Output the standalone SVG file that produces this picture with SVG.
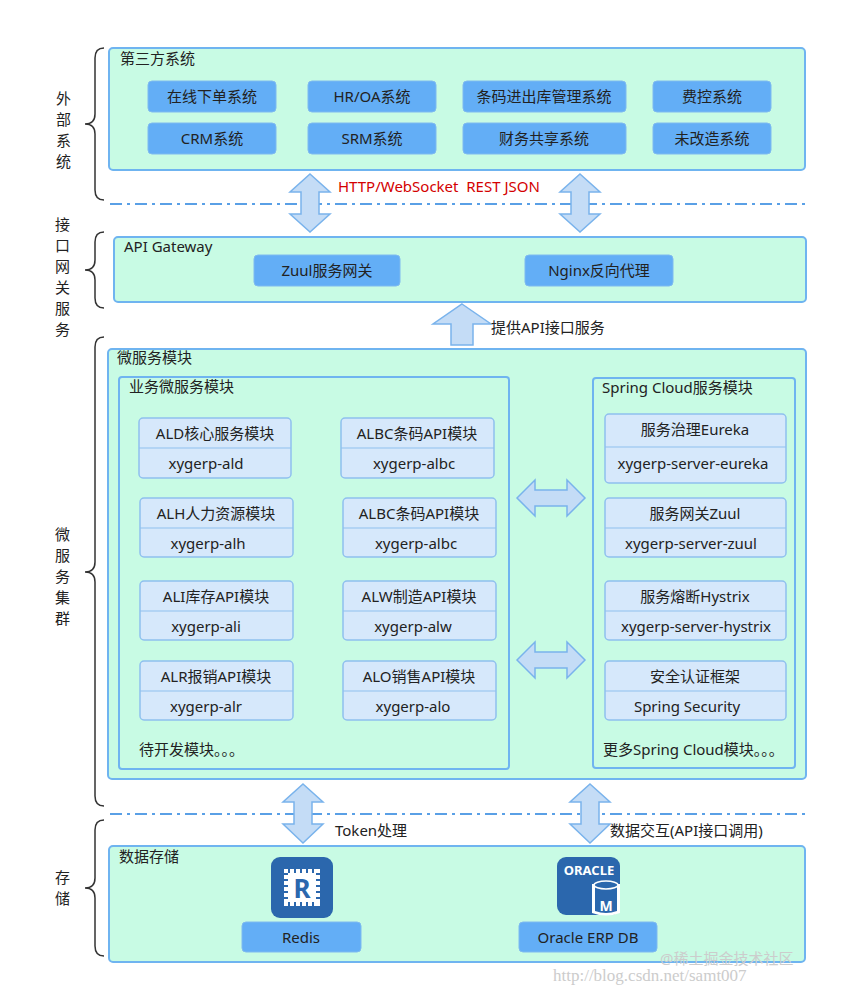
<svg xmlns="http://www.w3.org/2000/svg" width="844" height="995" viewBox="0 0 844 995">
<style>
text{font-family:"Noto Sans","Noto Sans CJK SC",sans-serif;font-size:15px;fill:#222}
.panel{fill:#c8fbe4;stroke:#6fb4f0;stroke-width:2}
.btn{fill:#63aef6;stroke:#7fbaf0;stroke-width:1}
.mod{fill:#d6e8fb;stroke:#8fc0ee;stroke-width:1.5}
.arr{fill:#c4dcf6;stroke:#79b3ec;stroke-width:1.5}
.dash{stroke:#5aa0e6;stroke-width:2;stroke-dasharray:12 5 3 5;fill:none}
.br{fill:none;stroke:#333;stroke-width:1.5}
.c{text-anchor:middle}
</style>
<rect width="844" height="995" fill="#fff"/>
<g id="brackets">
<path class="br" d="M104,48 Q95,48 95,58 L95,114 Q95,124 85,124 Q95,124 95,134 L95,190 Q95,200 104,200"/>
<text x="56" y="104">外</text><text x="56" y="125">部</text><text x="56" y="146">系</text><text x="56" y="167">统</text>
<path class="br" d="M104,232 Q95,232 95,242 L95,260 Q95,270 85,270 Q95,270 95,280 L95,298 Q95,308 104,308"/>
<text x="55" y="230">接</text><text x="55" y="251">口</text><text x="55" y="272">网</text><text x="55" y="293">关</text><text x="55" y="314">服</text><text x="55" y="335">务</text>
<path class="br" d="M104,337 Q95,337 95,347 L95,562 Q95,572 85,572 Q95,572 95,582 L95,796 Q95,806 104,806"/>
<text x="55" y="540">微</text><text x="55" y="561">服</text><text x="55" y="582">务</text><text x="55" y="603">集</text><text x="55" y="624">群</text>
<path class="br" d="M104,820 Q95,820 95,830 L95,878 Q95,888 85,888 Q95,888 95,898 L95,946 Q95,956 104,956"/>
<text x="55" y="883">存</text><text x="55" y="904">储</text>
</g>
<g id="third">
<rect class="panel" x="109" y="48" width="696" height="122" rx="4"/>
<text x="120" y="64">第三方系统</text>
<rect class="btn" x="148" y="81" width="128" height="31" rx="4"/><text class="c" x="212" y="102">在线下单系统</text>
<rect class="btn" x="308" y="81" width="128" height="31" rx="4"/><text class="c" x="372" y="102">HR/OA系统</text>
<rect class="btn" x="463" y="81" width="163" height="31" rx="4"/><text class="c" x="544" y="102">条码进出库管理系统</text>
<rect class="btn" x="653" y="81" width="118" height="31" rx="4"/><text class="c" x="712" y="102">费控系统</text>
<rect class="btn" x="148" y="123" width="128" height="31" rx="4"/><text class="c" x="212" y="144">CRM系统</text>
<rect class="btn" x="308" y="123" width="128" height="31" rx="4"/><text class="c" x="372" y="144">SRM系统</text>
<rect class="btn" x="463" y="123" width="163" height="31" rx="4"/><text class="c" x="544" y="144">财务共享系统</text>
<rect class="btn" x="653" y="123" width="118" height="31" rx="4"/><text class="c" x="712" y="144">未改造系统</text>
</g>
<g id="gateway">
<rect class="panel" x="114" y="237" width="692" height="65" rx="4"/>
<text x="124" y="252">API Gateway</text>
<rect class="btn" x="254" y="255" width="146" height="31" rx="4"/><text class="c" x="327" y="276">Zuul服务网关</text>
<rect class="btn" x="525" y="255" width="148" height="31" rx="4"/><text class="c" x="599" y="276">Nginx反向代理</text>
</g>
<g id="micro">
<rect class="panel" x="108" y="349" width="698" height="430" rx="4"/>
<text x="117" y="363">微服务模块</text>
<rect class="panel" x="119" y="377" width="390" height="392" rx="3"/>
<text x="129" y="392">业务微服务模块</text>
<g id="m1"><rect class="mod" x="139" y="418" width="152" height="60" rx="4"/><line x1="139" y1="448" x2="291" y2="448" stroke="#8fc0ee"/><text class="c" x="215" y="439">ALD核心服务模块</text><text class="c" x="206" y="469">xygerp-ald</text></g>
<g id="m2"><rect class="mod" x="341" y="418" width="153" height="60" rx="4"/><line x1="341" y1="448" x2="494" y2="448" stroke="#8fc0ee"/><text class="c" x="417" y="439">ALBC条码API模块</text><text class="c" x="414" y="469">xygerp-albc</text></g>
<g id="m3"><rect class="mod" x="140" y="498" width="153" height="59" rx="4"/><line x1="140" y1="528" x2="293" y2="528" stroke="#8fc0ee"/><text class="c" x="216" y="519">ALH人力资源模块</text><text class="c" x="208" y="549">xygerp-alh</text></g>
<g id="m4"><rect class="mod" x="343" y="498" width="153" height="59" rx="4"/><line x1="343" y1="528" x2="496" y2="528" stroke="#8fc0ee"/><text class="c" x="419" y="519">ALBC条码API模块</text><text class="c" x="416" y="549">xygerp-albc</text></g>
<g id="m5"><rect class="mod" x="140" y="581" width="153" height="59" rx="4"/><line x1="140" y1="611" x2="293" y2="611" stroke="#8fc0ee"/><text class="c" x="216" y="602">ALI库存API模块</text><text class="c" x="206" y="632">xygerp-ali</text></g>
<g id="m6"><rect class="mod" x="343" y="581" width="153" height="59" rx="4"/><line x1="343" y1="611" x2="496" y2="611" stroke="#8fc0ee"/><text class="c" x="419" y="602">ALW制造API模块</text><text class="c" x="413" y="632">xygerp-alw</text></g>
<g id="m7"><rect class="mod" x="140" y="661" width="153" height="59" rx="4"/><line x1="140" y1="691" x2="293" y2="691" stroke="#8fc0ee"/><text class="c" x="216" y="682">ALR报销API模块</text><text class="c" x="206" y="712">xygerp-alr</text></g>
<g id="m8"><rect class="mod" x="343" y="661" width="153" height="59" rx="4"/><line x1="343" y1="691" x2="496" y2="691" stroke="#8fc0ee"/><text class="c" x="419" y="682">ALO销售API模块</text><text class="c" x="413" y="712">xygerp-alo</text></g>
<text x="139" y="755">待开发模块。。。</text>
<rect class="panel" x="593" y="378" width="202" height="390" rx="3"/>
<text x="602" y="393">Spring Cloud服务模块</text>
<g id="s1"><rect class="mod" x="605" y="414" width="181" height="69" rx="4"/><line x1="605" y1="447" x2="786" y2="447" stroke="#8fc0ee"/><text class="c" x="695" y="435">服务治理Eureka</text><text class="c" x="693" y="469">xygerp-server-eureka</text></g>
<g id="s2"><rect class="mod" x="605" y="498" width="181" height="59" rx="4"/><line x1="605" y1="528" x2="786" y2="528" stroke="#8fc0ee"/><text class="c" x="695" y="519">服务网关Zuul</text><text class="c" x="691" y="549">xygerp-server-zuul</text></g>
<g id="s3"><rect class="mod" x="605" y="581" width="181" height="59" rx="4"/><line x1="605" y1="611" x2="786" y2="611" stroke="#8fc0ee"/><text class="c" x="695" y="602">服务熔断Hystrix</text><text class="c" x="696" y="632">xygerp-server-hystrix</text></g>
<g id="s4"><rect class="mod" x="605" y="661" width="181" height="59" rx="4"/><line x1="605" y1="691" x2="786" y2="691" stroke="#8fc0ee"/><text class="c" x="695" y="682">安全认证框架</text><text class="c" x="687" y="712">Spring Security</text></g>
<text x="603" y="755">更多Spring Cloud模块。。。</text>
</g>
<g id="storage">
<rect class="panel" x="109" y="846" width="696" height="116" rx="4"/>
<text x="119" y="862">数据存储</text>
<g id="redis">
<rect x="271" y="857" width="62" height="61" rx="9" fill="#2b67ad"/>
<rect x="284" y="869" width="36" height="37" fill="#fff"/>
<g stroke="#2b67ad" stroke-width="2"><line x1="279" y1="874" x2="325" y2="874"/><line x1="279" y1="880" x2="325" y2="880"/><line x1="279" y1="886" x2="325" y2="886"/><line x1="279" y1="892" x2="325" y2="892"/><line x1="279" y1="898" x2="325" y2="898"/><line x1="289" y1="864" x2="289" y2="911"/><line x1="295" y1="864" x2="295" y2="911"/><line x1="301" y1="864" x2="301" y2="911"/><line x1="307" y1="864" x2="307" y2="911"/><line x1="313" y1="864" x2="313" y2="911"/></g>
<rect x="288" y="873" width="28" height="29" fill="#fff"/>
<text class="c" x="302" y="898" style="font-size:26px;font-weight:bold;fill:#2b67ad">R</text>
<rect class="btn" x="242" y="922" width="119" height="30" rx="4"/><text class="c" x="301" y="943">Redis</text>
</g>
<g id="oracle">
<rect x="557" y="857" width="63" height="58" rx="9" fill="#2b67ad"/>
<text class="c" x="589" y="875" style="font-size:13px;font-weight:bold;fill:#fff">ORACLE</text>
<path d="M592,884 L592,913 Q606,918 620,913 L620,884 Z" fill="#fff"/>
<path d="M595,886 L595,911 Q606,915 617,911 L617,886 Z" fill="#2b67ad"/>
<ellipse cx="606" cy="885" rx="12" ry="4" fill="#2b67ad" stroke="#fff" stroke-width="1.5"/>
<text class="c" x="606" y="911" style="font-size:14px;font-weight:bold;fill:#fff">M</text>
<rect class="btn" x="519" y="922" width="138" height="30" rx="4"/><text class="c" x="588" y="943">Oracle ERP DB</text>
</g>
</g>
<g id="connectors">
<line class="dash" x1="110" y1="204" x2="805" y2="204"/>
<line class="dash" x1="110" y1="814" x2="805" y2="814"/>
<path class="arr" d="M310,174 L330,192 L319,192 L319,214 L330,214 L310,232 L290,214 L301,214 L301,192 L290,192 Z"/>
<path class="arr" d="M580,174 L600,192 L589,192 L589,214 L600,214 L580,232 L560,214 L571,214 L571,192 L560,192 Z"/>
<path class="arr" d="M462,304 L491,324 L473,324 L473,345 L451,345 L451,324 L433,324 Z"/>
<path class="arr" d="M303,784 L323,802 L312,802 L312,824 L323,824 L303,843 L283,824 L294,824 L294,802 L283,802 Z"/>
<path class="arr" d="M590,784 L610,802 L599,802 L599,824 L610,824 L590,843 L570,824 L581,824 L581,802 L570,802 Z"/>
<path class="arr" d="M517,498 L535,480 L535,490 L567,490 L567,480 L585,498 L567,516 L567,506 L535,506 L535,516 Z"/>
<path class="arr" d="M517,660 L535,642 L535,652 L567,652 L567,642 L585,660 L567,678 L567,668 L535,668 L535,678 Z"/>
</g>
<text x="338" y="192" xml:space="preserve" style="fill:#d40000">HTTP/WebSocket  REST JSON</text>
<text x="491" y="333">提供API接口服务</text>
<text x="335" y="836">Token处理</text>
<text x="610" y="836">数据交互(API接口调用)</text>
<text x="660" y="964" style="font-size:15px;fill:#ccc">@稀土掘金技术社区</text>
<text x="553" y="981" style="font-family:'Liberation Serif',serif;font-size:17px;fill:#ccc">http://blog.csdn.net/samt007</text>
</svg>
